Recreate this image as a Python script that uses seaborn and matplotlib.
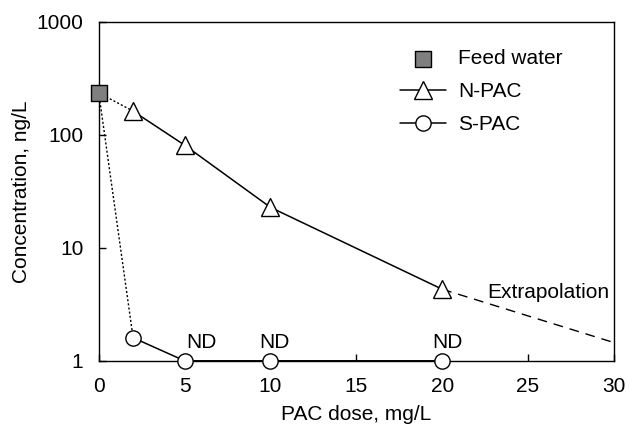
import matplotlib
matplotlib.use("Agg")
import matplotlib.pyplot as plt
import pandas as pd
import seaborn as sns

# values
feed_dose = [0]
feed_conc = [235]
npac_dose = [2, 5, 10, 20]
npac_conc = [162, 81, 22.8, 4.3]
spac_dose = [2, 5, 10, 20]
spac_conc = [1.6, 1.0, 1.0, 1.0]
extrap_dose = [20, 30]
extrap_conc = [4.3, 1.45]
nd_dose = [6.0, 10.25, 20.3]
nd_conc = [1.2, 1.2, 1.2]

sns.set_style("ticks")
plt.rcParams["font.family"] = ["Liberation Sans", "DejaVu Sans"]
plt.rcParams["font.size"] = 15
plt.rcParams["text.color"] = "black"
plt.rcParams["axes.labelcolor"] = "black"
plt.rcParams["xtick.color"] = "black"
plt.rcParams["ytick.color"] = "black"

fig, ax = plt.subplots(figsize=(6.29, 4.28), dpi=100)
fig.subplots_adjust(left=0.157, right=0.976, top=0.949, bottom=0.157)

npac = pd.DataFrame({"dose": npac_dose, "conc": npac_conc})
spac = pd.DataFrame({"dose": spac_dose, "conc": spac_conc})
feed = pd.DataFrame({"dose": feed_dose, "conc": feed_conc})

# dotted connectors from feed water to first dosed point
for d, c in [(npac_dose[0], npac_conc[0]), (spac_dose[0], spac_conc[0])]:
    ax.plot([feed_dose[0], d], [feed_conc[0], c], color="black",
            linestyle=(0, (1.5, 1.5)), linewidth=1.0, zorder=2)

# extrapolation
ax.plot(extrap_dose, extrap_conc, color="black", linestyle=(0, (7, 5)),
        linewidth=1.0, zorder=2)

sns.scatterplot(data=feed, x="dose", y="conc", marker="s", s=140,
                color="#7f7f7f", edgecolor="black", linewidth=1.0,
                label="Feed water", ax=ax, zorder=5, clip_on=False)
sns.lineplot(data=npac, x="dose", y="conc", marker="^", markersize=13,
             markerfacecolor="white", markeredgecolor="black",
             markeredgewidth=1.0, color="black", linewidth=1.1,
             label="N-PAC", ax=ax, zorder=4, clip_on=False)
sns.lineplot(data=spac, x="dose", y="conc", marker="o", markersize=11,
             markerfacecolor="white", markeredgecolor="black",
             markeredgewidth=1.0, color="black", linewidth=1.1,
             label="S-PAC", ax=ax, zorder=4, clip_on=False)

for x, y in zip(nd_dose, nd_conc):
    ax.text(x, y, "ND", ha="center", va="bottom", fontsize=15)
ax.text(22.6, 4.0, "Extrapolation", ha="left", va="center", fontsize=15)

ax.set_yscale("log")
ax.set_ylim(1, 1000)
ax.set_xlim(0, 30)
ax.set_xticks([0, 5, 10, 15, 20, 25, 30])
ax.set_yticks([1, 10, 100, 1000])
ax.set_yticklabels(["1", "10", "100", "1000"])
ax.minorticks_off()
ax.yaxis.set_minor_locator(matplotlib.ticker.NullLocator())
ax.tick_params(axis="y", direction="in", length=5, width=1, labelsize=15, pad=11)
ax.tick_params(axis="x", direction="in", length=5, width=1, labelsize=15, pad=12)
for sp in ax.spines.values():
    sp.set_linewidth(1.0)
    sp.set_color("black")

ax.set_xlabel("PAC dose, mg/L", fontsize=15, labelpad=6)
ax.set_ylabel("Concentration, ng/L", fontsize=15, labelpad=4)

ax.legend(loc="upper left", bbox_to_anchor=(0.548, 0.975), frameon=False,
          fontsize=15, handlelength=2.2, labelspacing=0.68, handletextpad=0.6)

fig.savefig("out.png", dpi=100)
